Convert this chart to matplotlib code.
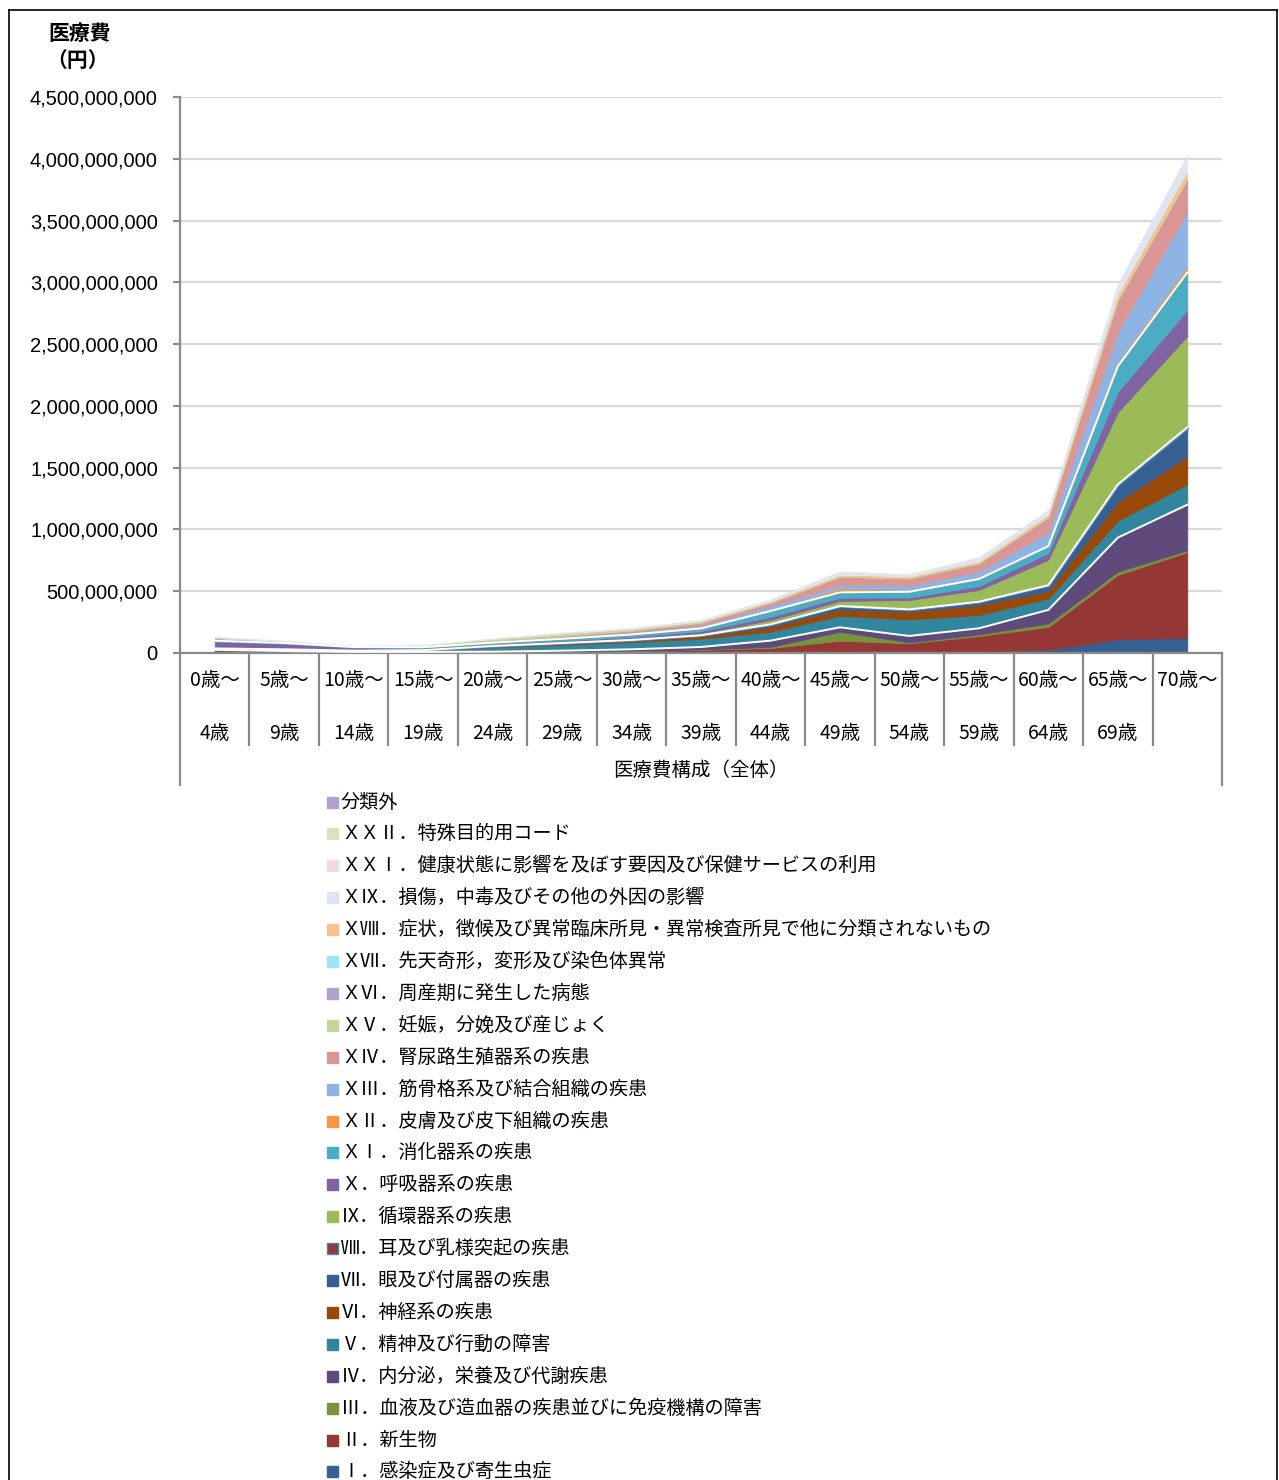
import matplotlib
matplotlib.use('Agg')
import matplotlib.pyplot as plt
import matplotlib.transforms as mtransforms
from matplotlib.patches import Rectangle
from matplotlib.lines import Line2D
import numpy as np

plt.rcParams['font.family'] = ['Noto Sans CJK JP', 'DejaVu Sans']

# age groups
age_from = [0, 5, 10, 15, 20, 25, 30, 35, 40, 45, 50, 55, 60, 65, 70]
age_to = [4, 9, 14, 19, 24, 29, 34, 39, 44, 49, 54, 59, 64, 69, None]

# disease groups, bottom of stack first
labels = [
    'Ⅰ．感染症及び寄生虫症',
    'Ⅱ．新生物',
    'Ⅲ．血液及び造血器の疾患並びに免疫機構の障害',
    'Ⅳ．内分泌，栄養及び代謝疾患',
    'Ⅴ．精神及び行動の障害',
    'Ⅵ．神経系の疾患',
    'Ⅶ．眼及び付属器の疾患',
    'Ⅷ．耳及び乳様突起の疾患',
    'Ⅸ．循環器系の疾患',
    'Ｘ．呼吸器系の疾患',
    'ＸⅠ．消化器系の疾患',
    'ＸⅡ．皮膚及び皮下組織の疾患',
    'ＸⅢ．筋骨格系及び結合組織の疾患',
    'ＸⅣ．腎尿路生殖器系の疾患',
    'ＸⅤ．妊娠，分娩及び産じょく',
    'ＸⅥ．周産期に発生した病態',
    'ＸⅦ．先天奇形，変形及び染色体異常',
    'ＸⅧ．症状，徴候及び異常臨床所見・異常検査所見で他に分類されないもの',
    'ＸⅨ．損傷，中毒及びその他の外因の影響',
    'ＸＸⅠ．健康状態に影響を及ぼす要因及び保健サービスの利用',
    'ＸＸⅡ．特殊目的用コード',
    '分類外',
]
colors = ['#376092', '#953735', '#77933C', '#604A7B', '#31859C', '#984807',
          '#376092', '#953735', '#9BBB59', '#8064A2', '#4BACC6', '#F79646',
          '#8EB4E3', '#D99694', '#C3D69B', '#B3A2C7', '#9DE3F9', '#FAC090',
          '#DCE6F2', '#F2DCDB', '#D7E4BD', '#B3A2C7']

# medical cost, million yen
s01 = [20, 12, 6, 4, 3, 4, 4, 5, 8, 16, 13, 13, 27, 110, 124]
s02 = [2, 1, 1, 2, 4, 8, 14, 20, 32, 84, 65, 125, 184, 522, 692]
s03 = [2, 1, 1, 1, 1, 1, 2, 4, 10, 73, 8, 13, 28, 27, 16]
s04 = [2, 2, 1, 2, 3, 6, 10, 20, 50, 35, 52, 49, 110, 275, 368]
s05 = [1, 3, 4, 8, 35, 48, 59, 67, 73, 94, 134, 108, 91, 137, 165]
s06 = [3, 3, 2, 3, 8, 10, 12, 20, 40, 51, 63, 81, 63, 151, 228]
s07 = [3, 4, 2, 2, 2, 3, 4, 6, 17, 25, 16, 24, 42, 135, 224]
s08 = [4, 4, 2, 1, 1, 1, 1, 2, 2, 2, 2, 2, 4, 8, 10]
s09 = [1, 1, 0.5, 1, 2, 4, 8, 15, 35, 41, 76, 95, 206, 585, 737]
s10 = [55, 45, 25, 18, 15, 16, 16, 18, 27, 27, 21, 32, 55, 165, 214]
s11 = [6, 5, 4, 5, 10, 14, 20, 22, 46, 43, 46, 57, 55, 205, 302]
s12 = [7, 5, 3, 4, 4, 5, 5, 7, 13, 32, 14, 13, 14, 34, 50]
s13 = [1, 1, 1, 2, 5, 8, 12, 16, 27, 27, 35, 46, 96, 242, 440]
s14 = [2, 2, 1, 2, 6, 10, 14, 22, 27, 68, 59, 68, 124, 261, 266]
s15 = [0, 0, 0, 1, 8, 12, 8, 4, 1, 0.2, 0, 0, 0, 0, 0]
s16 = [10, 0.5, 0.2, 0.2, 0.5, 0.5, 0.5, 0.5, 0.5, 0.3, 0.3, 0.3, 0.5, 1, 1]
s17 = [5, 2, 1, 1, 1, 1, 1, 1, 1, 1, 1, 1, 2, 3, 4]
s18 = [4, 3, 1, 2, 3, 4, 4, 6, 8, 13, 14, 13, 19, 41, 60]
s19 = [5, 6, 5, 7, 8, 10, 9, 13, 17, 27, 19, 35, 36, 82, 120]
s21 = [1, 0.5, 0.5, 0.5, 1, 2, 1.5, 2, 2, 2, 2, 2, 3, 5, 6]
s22 = [0.1, 0.1, 0.1, 0.1, 0.1, 0.1, 0.1, 0.1, 0.1, 0.1, 0.1, 0.1, 0.2, 0.3, 0.5]
s_other = [0.5, 0.3, 0.2, 0.2, 0.3, 0.3, 0.3, 0.5, 0.5, 0.5, 0.5, 0.5, 1, 2, 3]

series = [s01, s02, s03, s04, s05, s06, s07, s08, s09, s10, s11, s12, s13,
          s14, s15, s16, s17, s18, s19, s21, s22, s_other]

W, H = 1279, 1480
fig = plt.figure(figsize=(W / 100, H / 100), dpi=100)
ax = fig.add_axes([180 / W, 1 - 653 / H, (1222 - 180) / W, (653 - 97) / H])

x = np.arange(len(age_from))
data = np.array(series) * 1e6
polys = ax.stackplot(x, data, colors=colors, zorder=2)
for i, (p, c) in enumerate(zip(polys, colors)):
    p.set_edgecolor(c)
    # tiny top series get no outline so the top edge stays pale
    p.set_linewidth(0.6 if i < 15 else 0)
polys[7].set_edgecolor('#4F81BD')
polys[7].set_linewidth(1.5)

# white borders seen on some series
cum = np.cumsum(data, axis=0)
for i in (3, 7, 10):
    ax.plot(x, cum[i], color='white', lw=1.4, zorder=3)

ax.set_xlim(-0.5, len(x) - 0.5)
ax.set_ylim(0, 4.5e9)
ax.set_yticks(np.arange(0, 4.5e9 + 1, 5e8))
ax.yaxis.set_major_formatter(matplotlib.ticker.FuncFormatter(lambda v, p: f'{v:,.0f}'))
ax.set_xticks([])
for lab in ax.get_yticklabels():
    lab.set_family('Liberation Sans')
ax.tick_params(axis='y', labelsize=14.5, length=5, width=1.5, color='#898989', pad=11)
ax.grid(axis='y', color='#D9D9D9', lw=1.6, zorder=0)
ax.set_axisbelow(True)
for s in ('top', 'right'):
    ax.spines[s].set_visible(False)
for s in ('left', 'bottom'):
    ax.spines[s].set_color('#898989')
    ax.spines[s].set_linewidth(1.6)

# category separators and labels
trans = mtransforms.blended_transform_factory(ax.transData, ax.transAxes)
for k in range(len(x) + 1):
    xb = k - 0.5
    y_end = -0.2374 if k in (0, len(x)) else -0.1655
    ax.add_line(Line2D([xb, xb], [0, y_end], transform=trans, clip_on=False,
                       color='#898989', lw=1.6))
for i, (a, b) in enumerate(zip(age_from, age_to)):
    ax.text(i, -0.0486, f'{a}歳～', transform=trans, ha='center', va='center', fontsize=14)
    if b is not None:
        ax.text(i, -0.1439, f'{b}歳', transform=trans, ha='center', va='center', fontsize=14)
ax.text(0.5, -0.2122, '医療費構成（全体）', transform=ax.transAxes,
        ha='center', va='center', fontsize=14)

fig.text(80 / W, 1 - 34 / H, '医療費', ha='center', va='center', fontsize=15, weight='bold')
fig.text(78 / W, 1 - 60 / H, '（円）', ha='center', va='center', fontsize=15, weight='bold')

# legend (reverse order, like the source)
for j, i in enumerate(range(len(labels) - 1, -1, -1)):
    yc = 802 + j * 31.9
    edge = '#4F81BD' if i == 7 else colors[i]
    fig.patches.append(Rectangle((327 / W, 1 - (yc + 5.5) / H), 11 / W, 11 / H,
                                 transform=fig.transFigure, facecolor=colors[i],
                                 edgecolor=edge, lw=1))
    fig.text(341 / W, 1 - yc / H, labels[i], ha='left', va='center', fontsize=13.8)

# outer frame
for xs, ys in (([9, 9], [1480, 10]), ([9, 1277], [10, 10]), ([1277, 1277], [10, 1480])):
    fig.add_artist(Line2D([v / W for v in xs], [1 - v / H for v in ys],
                          transform=fig.transFigure, color='black', lw=1.2))

fig.savefig('out.png', dpi=100)
